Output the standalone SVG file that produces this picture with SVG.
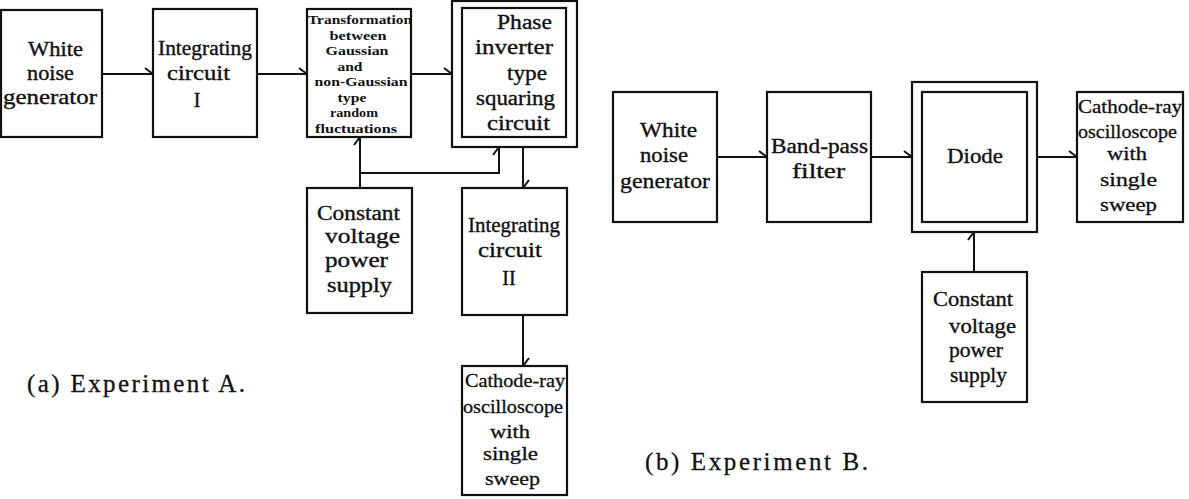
<svg xmlns="http://www.w3.org/2000/svg" width="1189" height="499" viewBox="0 0 1189 499">
<style>
.box{fill:#fff;stroke:#111;stroke-width:2.2}
.t{font-family:'Liberation Serif','DejaVu Serif','Times New Roman',serif;font-size:20px;fill:#111;stroke:#111;stroke-width:0.35}
.s{font-family:'Liberation Serif','DejaVu Serif','Times New Roman',serif;font-size:18px;fill:#111;stroke:#111;stroke-width:0.3}
.m{font-family:'Liberation Serif','DejaVu Serif','Times New Roman',serif;font-size:13px;font-weight:bold;fill:#111;text-anchor:middle}
.c{font-family:'Liberation Serif','DejaVu Serif','Times New Roman',serif;font-size:25px;fill:#111;stroke:#111;stroke-width:0.3}
.ln{fill:none;stroke:#111;stroke-width:2;marker-end:url(#barb)}
</style>
<defs>
<marker id="barb" markerUnits="userSpaceOnUse" markerWidth="20" markerHeight="20" refX="0" refY="0" orient="auto" overflow="visible">
<path d="M0,0 L-8,-6" fill="none" stroke="#111" stroke-width="2"/>
</marker>
</defs>
<rect width="1189" height="499" fill="#fff"/>

<g id="connectors">
<path class="ln" d="M102,74 L153,74"/>
<path class="ln" d="M257,74 L307,74"/>
<path class="ln" d="M411,74 L452,74"/>
<path class="ln" d="M360,188 L360,137"/>
<path class="ln" d="M360,173 L499,173 L499,147"/>
<path class="ln" d="M523,147 L523,188"/>
<path class="ln" d="M523,315 L523,366"/>
<path class="ln" d="M717,157 L767,157"/>
<path class="ln" d="M871,157 L912,157"/>
<path class="ln" d="M1037,157 L1077,157"/>
<path class="ln" d="M974,272 L974,232"/>
</g>

<g id="a-white-noise">
<rect class="box" x="1" y="10" width="101" height="127"/>
<text class="t" x="28" y="56" textLength="55" lengthAdjust="spacingAndGlyphs">White</text>
<text class="t" x="27" y="80" textLength="47" lengthAdjust="spacingAndGlyphs">noise</text>
<text class="t" x="3" y="104" textLength="94" lengthAdjust="spacingAndGlyphs">generator</text>
</g>

<g id="a-integrating-1">
<rect class="box" x="153" y="9" width="104" height="128"/>
<text class="t" x="158" y="55" textLength="94" lengthAdjust="spacingAndGlyphs">Integrating</text>
<text class="t" x="167" y="80" textLength="63" lengthAdjust="spacingAndGlyphs">circuit</text>
<text class="t" x="197" y="107" text-anchor="middle">I</text>
</g>

<g id="a-transformation">
<rect class="box" x="307" y="9" width="104" height="128"/>
<text class="m" x="360" y="24" textLength="104" lengthAdjust="spacingAndGlyphs">Transformation</text>
<text class="m" x="358" y="39.5" textLength="57" lengthAdjust="spacingAndGlyphs">between</text>
<text class="m" x="357" y="55" textLength="63" lengthAdjust="spacingAndGlyphs">Gaussian</text>
<text class="m" x="350" y="70.5" textLength="25" lengthAdjust="spacingAndGlyphs">and</text>
<text class="m" x="361" y="86" textLength="93" lengthAdjust="spacingAndGlyphs">non-Gaussian</text>
<text class="m" x="352" y="101.5" textLength="29" lengthAdjust="spacingAndGlyphs">type</text>
<text class="m" x="354" y="117" textLength="48" lengthAdjust="spacingAndGlyphs">random</text>
<text class="m" x="356" y="132.5" textLength="82" lengthAdjust="spacingAndGlyphs">fluctuations</text>
</g>

<g id="a-phase-inverter">
<rect class="box" x="452" y="1" width="125" height="146"/>
<rect class="box" x="462" y="8" width="104" height="129"/>
<text class="t" x="497" y="29" textLength="55" lengthAdjust="spacingAndGlyphs">Phase</text>
<text class="t" x="475" y="54" textLength="78" lengthAdjust="spacingAndGlyphs">inverter</text>
<text class="t" x="507" y="80" textLength="40" lengthAdjust="spacingAndGlyphs">type</text>
<text class="t" x="476" y="105" textLength="79" lengthAdjust="spacingAndGlyphs">squaring</text>
<text class="t" x="487" y="130" textLength="63" lengthAdjust="spacingAndGlyphs">circuit</text>
</g>

<g id="a-constant-voltage">
<rect class="box" x="307" y="188" width="105" height="125"/>
<text class="t" x="317" y="220" textLength="83" lengthAdjust="spacingAndGlyphs">Constant</text>
<text class="t" x="325" y="243" textLength="75" lengthAdjust="spacingAndGlyphs">voltage</text>
<text class="t" x="325" y="267" textLength="63" lengthAdjust="spacingAndGlyphs">power</text>
<text class="t" x="327" y="292" textLength="65" lengthAdjust="spacingAndGlyphs">supply</text>
</g>

<g id="a-integrating-2">
<rect class="box" x="462" y="188" width="105" height="127"/>
<text class="t" x="468" y="232" textLength="92" lengthAdjust="spacingAndGlyphs">Integrating</text>
<text class="t" x="478" y="257" textLength="64" lengthAdjust="spacingAndGlyphs">circuit</text>
<text class="t" x="509" y="285" text-anchor="middle">II</text>
</g>

<g id="a-cathode-ray">
<rect class="box" x="462" y="366" width="105" height="129"/>
<text class="s" x="465" y="387" textLength="100" lengthAdjust="spacingAndGlyphs">Cathode-ray</text>
<text class="s" x="463" y="413" textLength="100" lengthAdjust="spacingAndGlyphs">oscilloscope</text>
<text class="s" x="490" y="438" textLength="40" lengthAdjust="spacingAndGlyphs">with</text>
<text class="s" x="483" y="460" textLength="55" lengthAdjust="spacingAndGlyphs">single</text>
<text class="s" x="485" y="485" textLength="55" lengthAdjust="spacingAndGlyphs">sweep</text>
</g>

<text class="c" x="27" y="392" textLength="218" lengthAdjust="spacing">(a)  Experiment  A.</text>

<g id="b-white-noise">
<rect class="box" x="613" y="92" width="104" height="130"/>
<text class="t" x="640" y="137" textLength="57" lengthAdjust="spacingAndGlyphs">White</text>
<text class="t" x="640" y="162" textLength="48" lengthAdjust="spacingAndGlyphs">noise</text>
<text class="t" x="620" y="188" textLength="90" lengthAdjust="spacingAndGlyphs">generator</text>
</g>

<g id="b-band-pass">
<rect class="box" x="767" y="92" width="104" height="130"/>
<text class="t" x="771" y="153" textLength="97" lengthAdjust="spacingAndGlyphs">Band-pass</text>
<text class="t" x="792" y="178" textLength="53" lengthAdjust="spacingAndGlyphs">filter</text>
</g>

<g id="b-diode">
<rect class="box" x="912" y="82" width="125" height="150"/>
<rect class="box" x="922" y="92" width="105" height="130"/>
<text class="t" x="947" y="163" textLength="56" lengthAdjust="spacingAndGlyphs">Diode</text>
</g>

<g id="b-cathode-ray">
<rect class="box" x="1077" y="92" width="106" height="130"/>
<text class="s" x="1078" y="113" textLength="104" lengthAdjust="spacingAndGlyphs">Cathode-ray</text>
<text class="s" x="1078" y="138" textLength="99" lengthAdjust="spacingAndGlyphs">oscilloscope</text>
<text class="s" x="1107" y="160" textLength="40" lengthAdjust="spacingAndGlyphs">with</text>
<text class="s" x="1100" y="186" textLength="57" lengthAdjust="spacingAndGlyphs">single</text>
<text class="s" x="1100" y="211" textLength="57" lengthAdjust="spacingAndGlyphs">sweep</text>
</g>

<g id="b-constant-voltage">
<rect class="box" x="922" y="272" width="105" height="130"/>
<text class="t" x="933" y="306" textLength="80" lengthAdjust="spacingAndGlyphs">Constant</text>
<text class="t" x="949" y="333" textLength="67" lengthAdjust="spacingAndGlyphs">voltage</text>
<text class="t" x="949" y="357" textLength="54" lengthAdjust="spacingAndGlyphs">power</text>
<text class="t" x="950" y="382" textLength="57" lengthAdjust="spacingAndGlyphs">supply</text>
</g>

<text class="c" x="645" y="470" textLength="223" lengthAdjust="spacing">(b)  Experiment  B.</text>
</svg>
